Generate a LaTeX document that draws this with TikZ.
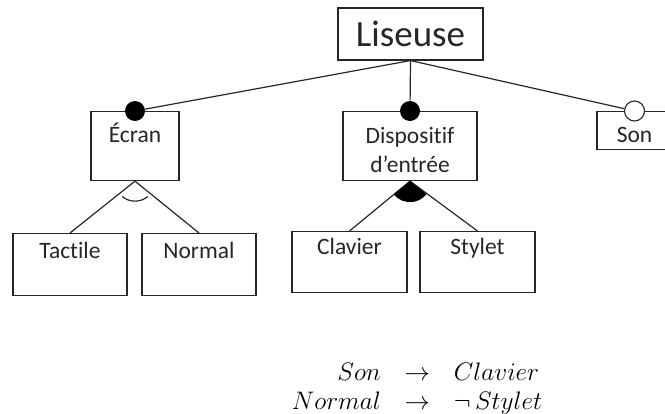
\documentclass[tikz,border=0pt]{standalone}
\usepackage{fix-cm}
\usepackage{fontspec}
\setmainfont{Carlito}[Ligatures=NoCommon]
\usetikzlibrary{positioning,calc}
\tikzset{
  conn/.style={draw=black!85,line width=0.85pt},
  feat/.style={draw=black!85,line width=0.8pt,inner xsep=0pt,inner ysep=0pt,
    anchor=north,font=\fontsize{16.7}{20.6}\selectfont,text=black!85,align=center},
  root/.style={feat,anchor=center,font=\fontsize{26.3}{30}\selectfont,
    minimum width=3.625cm,minimum height=1.3cm},
  mand/.style={circle,fill=black,inner sep=0pt,minimum size=5mm},
  opt/.style={circle,draw=black!85,fill=white,line width=0.8pt,inner sep=0pt,minimum size=5mm},
}

\begin{document}
\begin{tikzpicture}[x=0.025cm,y=-0.025cm]
  \useasboundingbox (0,0) rectangle (665,414);
  % feature tree
  \node[root] (lis) at (410.5,34) {Liseuse};
  \node[feat,minimum width=2.2cm,text height=7.75mm,text depth=9.5mm] (ecran) at (135,111) {Écran};
  \node[feat,minimum width=3.35cm,minimum height=1.725cm] (disp) at (410,111) {\rule{0pt}{16.8pt}Dispositif\\d'entrée};
  \node[feat,minimum width=1.875cm,text height=7.75mm,text depth=1.75mm] (son) at (634.5,111) {Son};
  \node[feat,minimum width=2.85cm,text height=6.25mm,text depth=9.25mm] (tactile) at (70,233) {Tactile};
  \node[feat,minimum width=2.85cm,text height=6.25mm,text depth=9.25mm] (normal) at (199,233) {Normal};
  \node[feat,minimum width=2.875cm,text height=5.75mm,text depth=9.5mm] (clavier) at (349.5,231) {Clavier};
  \node[feat,minimum width=2.875cm,text height=5.75mm,text depth=9.5mm] (stylet) at (477.5,231) {Stylet};

  \foreach \n/\d in {ecran/mand,disp/mand,son/opt}{
    \node[\d] (d-\n) at (\n.north) {};
    \draw[conn] (lis.south) -- (d-\n);
  }
  \draw[conn] (ecran.south) -- (tactile.north) (ecran.south) -- (normal.north);
  \draw[conn] (disp.south) -- (clavier.north) (disp.south) -- (stylet.north);
  % groups: alternative (open arc) and or (filled)
  \draw[conn] (ecran.south) ++(130:20) arc (130:50:20);
  \fill[black] (disp.south) -- ++(141:21) arc (141:38:21) -- cycle;

  % cross-tree constraints
  \node[font=\fontsize{18}{20.6}\selectfont] (cons) at (417,389)
    {\setlength{\arraycolsep}{8.5pt}$\begin{array}{rcl}
      Son & \rightarrow & Clavier\\
      Normal & \rightarrow & \neg\,Stylet
    \end{array}$};
\end{tikzpicture}
\end{document}
